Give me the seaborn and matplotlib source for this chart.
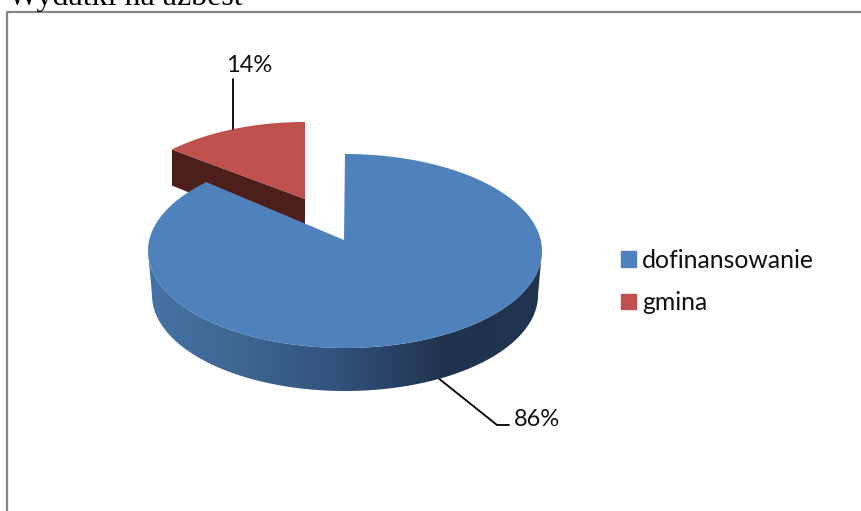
import numpy as np
import seaborn as sns
from matplotlib import pyplot as plt
from matplotlib.patches import Patch, Polygon

title = "Wydatki na azbest"
categories = ["dofinansowanie", "gmina"]
shares = [86, 14]
labels = ["86%", "14%"]

sns.set_theme(style="white")
plt.rcParams["font.family"] = ["Lato", "DejaVu Sans"]

BLUE = "#4f81bd"
RED = "#bf504d"
RED_WALL = "#4c1f1d"
TEXT = "#111111"
TILT = 0.82   # squeezes angles, the 3d view makes the small slice look narrower


def view_angle(deg):
    # true pie angle -> angle on the flattened ellipse
    rad = np.radians(deg)
    return np.arctan2(TILT * np.sin(rad), np.cos(rad))


def rim(cx, cy, a, b, t):
    return cx + a * np.sin(t), cy - b * np.cos(t)


fig = plt.figure(figsize=(8.62, 5.11), dpi=100)
ax = fig.add_axes([0, 0, 1, 1])
ax.axis("off")

# frame, only left and top are left in the scan
ax.plot([7.5, 7.5, 862], [511, 12, 12], color="#868686", lw=1.6, zorder=1)
ax.text(8, 5, title, family="Liberation Serif", fontsize=23, color="black",
        ha="left", va="baseline", clip_on=False)

angle_blue = 360 * shares[0] / sum(shares)
angle_red = 360 * shares[1] / sum(shares)

# red slice, pulled away up and to the left
t_red = np.linspace(0, -view_angle(angle_red), 60)
rx, ry = rim(305, 217, 189, 95, t_red)
wall_x = [rx[-1], 305, 305, rx[-1]]
wall_y = [ry[-1], 199, 240, ry[-1] + 36]
ax.fill(wall_x, wall_y, color=RED_WALL, lw=0, zorder=2)
ax.fill(np.r_[rx, 305], np.r_[ry, 199], color=RED, lw=0, zorder=3)

# blue side wall, gradient image clipped to the wall outline
t_wall = np.radians(np.linspace(270, 90, 181))
x1, y1 = rim(345, 251, 197, 97, t_wall)
x2, y2 = rim(345, 295, 193, 96, t_wall)
wall_cols = sns.blend_palette(["#4673a6", "#3d658f", "#30507a", "#1f334e", "#1f3550"], 256)
grad = ax.imshow(np.array(wall_cols)[None, :, :], extent=(148, 542, 391, 245),
                 aspect="auto", interpolation="bilinear", zorder=4)
grad.set_clip_path(Polygon(np.c_[np.r_[x1, x2[::-1]], np.r_[y1, y2[::-1]]], transform=ax.transData))

# blue top, runs clockwise from 12 o'clock
t_blue = np.linspace(0, 2 * np.pi - abs(view_angle(360 - angle_blue)), 240)
bx, by = rim(345, 251, 197, 97, t_blue)
ax.fill(np.r_[bx, 344], np.r_[by, 240], color=BLUE, lw=0, zorder=5)

# leader lines start at the middle of each slice
t_mid = (t_red[0] + t_red[-1]) / 2
lx, ly = rim(305, 217, 189, 95, t_mid)
ax.plot([lx, lx], [ly, 79], color="black", lw=1.3, zorder=6)
ax.text(lx + 16, 72, labels[1], fontsize=17, color=TEXT, ha="center", va="baseline")

t_mid = np.radians(angle_blue / 2 - 4)
lx, ly = rim(345, 295, 193, 96, t_mid)
ax.plot([lx, 497, 509], [ly, 425, 425], color="black", lw=1.3, zorder=3)
ax.text(514, 426, labels[0], fontsize=17, color=TEXT, ha="left", va="baseline")

handles = [Patch(color=BLUE), Patch(color=RED)]
leg = ax.legend(handles, categories, loc="upper left", bbox_to_anchor=(0.7204, 0.513),
                frameon=False, fontsize=17.8, handlelength=0.61, handleheight=0.61,
                handletextpad=0.25, labelspacing=0.78, labelcolor=TEXT,
                borderpad=0, borderaxespad=0)

ax.set_xlim(0, 862)
ax.set_ylim(511, 0)

fig.savefig("out.png", dpi=100)
